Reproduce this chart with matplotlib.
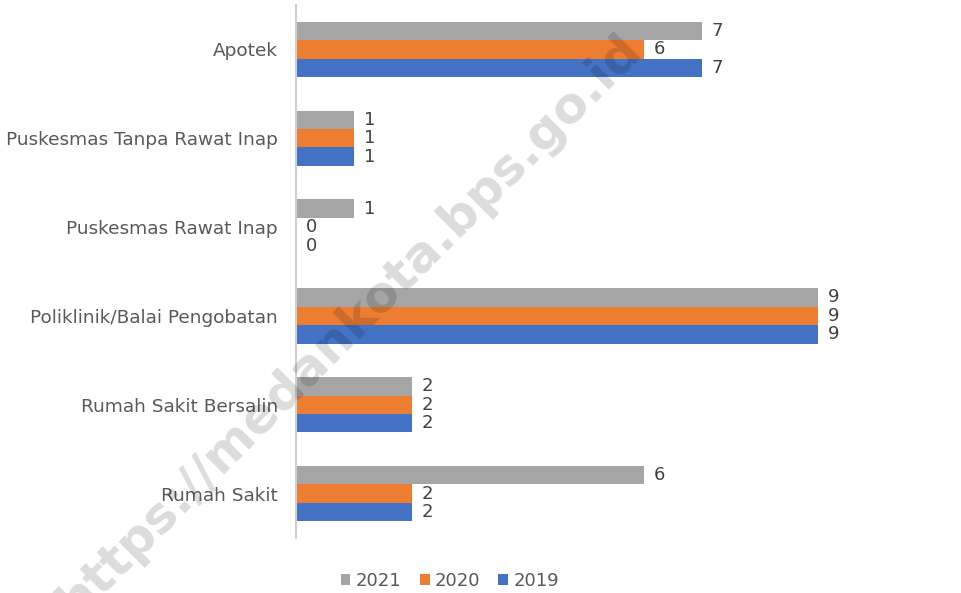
import matplotlib
matplotlib.use("Agg")
import matplotlib.pyplot as plt
import numpy as np

categories = ["Apotek", "Puskesmas Tanpa Rawat Inap", "Puskesmas Rawat Inap",
              "Poliklinik/Balai Pengobatan", "Rumah Sakit Bersalin", "Rumah Sakit"]
series_names = ["2021", "2020", "2019"]
v2021 = [7, 1, 1, 9, 2, 6]
v2020 = [6, 1, 0, 9, 2, 2]
v2019 = [7, 1, 0, 9, 2, 2]
colors = ["#A5A5A5", "#ED7D31", "#4472C4"]

plt.rcParams['font.family'] = ['DejaVu Sans']

fig = plt.figure(figsize=(9.61, 5.93), dpi=100)
ax = fig.add_axes([296/961, 1 - 538/593, 580/961, 533/593])

y = np.arange(len(categories))
bh = 0.208
offsets = [-bh, 0, bh]
for vals, name, col, off in zip([v2021, v2020, v2019], series_names, colors, offsets):
    bars = ax.barh(y + off, vals, height=bh, color=col, label=name, zorder=2)
    for b, v in zip(bars, vals):
        ax.annotate(str(v), (b.get_width(), b.get_y() + b.get_height()/2),
                    xytext=(7, 0), textcoords="offset points", va="center", ha="left",
                    fontsize=13, color="#404040", zorder=5,
                    bbox=dict(boxstyle="square,pad=0.0", fc="white", ec="none"))

ax.set_ylim(len(categories) - 0.5, -0.5)
ax.set_xlim(0, 10)
ax.set_yticks(y)
ax.set_yticklabels(categories, fontsize=13.3, color="#595959")
ax.tick_params(axis='y', length=0, pad=13)
ax.set_xticks([])
for s in ["top", "right", "bottom"]:
    ax.spines[s].set_visible(False)
ax.spines["left"].set_color("#D0D0D0")
ax.spines["left"].set_linewidth(1.5)

handles, labels = ax.get_legend_handles_labels()
fig.legend(handles, labels, loc="center", bbox_to_anchor=(450/961, 1 - 581/593),
           ncol=3, frameon=False, fontsize=13, handlelength=0.55, handleheight=0.55,
           handletextpad=0.3, columnspacing=1.0, labelcolor="#595959")

fig.text(350/961, 1 - 325/593, "https://medankota.bps.go.id", rotation=45,
         ha="center", va="center", fontsize=36, fontweight="bold",
         color="black", alpha=0.14, zorder=4, rotation_mode="anchor")

fig.savefig("out.png", dpi=100)
